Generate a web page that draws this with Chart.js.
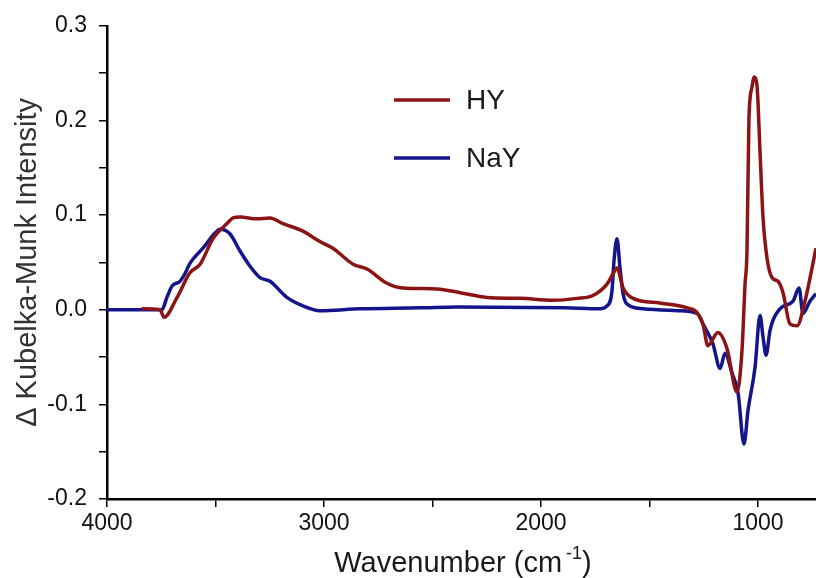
<!DOCTYPE html>
<html>
<head>
<meta charset="utf-8">
<script src="https://cdn.jsdelivr.net/npm/chart.js@4/dist/chart.umd.min.js"></script>
<style>
    html, body { margin: 0; padding: 0; background: #fff; }
    #wrap { width: 816px; height: 578px; position: relative; }
</style>
</head>
<body>
<div id="wrap"><canvas id="chart" width="816" height="578"></canvas></div>
<script>
// wavenumber (cm-1) and intensity
const hyWave = [3840, 3756, 3737, 3677, 3618, 3571, 3512, 3447, 3419, 3387, 3309, 3249, 3189, 3097, 3019, 2959,
    2866, 2802, 2710, 2636, 2479, 2373, 2249, 2097, 1945, 1834, 1761, 1696, 1668, 1650, 1622, 1576, 1452, 1327,
    1281, 1254, 1231, 1185, 1143, 1097, 1074, 1060, 1051, 1042, 1028, 1019, 1005, 991, 977, 959, 936, 908, 885,
    853, 820, 784, 733];
const hyValues = [0.001, 0.000, -0.008, 0.013, 0.039, 0.048, 0.075, 0.091, 0.097, 0.098, 0.096, 0.097, 0.091,
    0.083, 0.072, 0.065, 0.048, 0.043, 0.028, 0.023, 0.022, 0.018, 0.013, 0.012, 0.010, 0.012, 0.015, 0.027,
    0.038, 0.044, 0.023, 0.012, 0.007, 0.002, -0.003, -0.015, -0.038, -0.024, -0.041, -0.087, -0.043, 0.027,
    0.062, 0.202, 0.235, 0.246, 0.237, 0.167, 0.097, 0.055, 0.034, 0.030, 0.018, -0.015, -0.017, 0.009, 0.065];

const nayWave = [4000, 3747, 3724, 3700, 3664, 3641, 3618, 3558, 3502, 3479, 3433, 3387, 3341, 3295, 3249, 3171,
    3097, 3019, 2834, 2558, 2387, 1890, 1728, 1696, 1673, 1664, 1650, 1636, 1622, 1604, 1530, 1373, 1281, 1254,
    1208, 1175, 1152, 1120, 1092, 1065, 1046, 1014, 991, 977, 963, 945, 899, 839, 811, 793, 761, 733];
const nayValues = [0.000, 0.000, 0.013, 0.025, 0.030, 0.038, 0.049, 0.065, 0.081, 0.085, 0.080, 0.062, 0.046,
    0.034, 0.030, 0.013, 0.004, -0.001, 0.001, 0.002, 0.003, 0.002, 0.001, 0.004, 0.020, 0.051, 0.075, 0.044,
    0.017, 0.006, 0.001, -0.001, -0.004, -0.015, -0.036, -0.062, -0.046, -0.067, -0.088, -0.142, -0.106, -0.061,
    -0.006, -0.029, -0.048, -0.022, 0.001, 0.009, 0.023, -0.004, 0.009, 0.017];

// tick marks; only the labelled ones get text
const xTicks = [4000, 3500, 3000, 2500, 2000, 1500, 1000];
const xLabelled = [4000, 3000, 2000, 1000];
const yTicks = [-0.2, -0.15, -0.1, -0.05, 0, 0.05, 0.1, 0.15, 0.2, 0.25, 0.3];
const yLabelled = [-0.2, -0.1, 0, 0.1, 0.2, 0.3];

const xRange = [733, 4000];
const yRange = [-0.2, 0.3];

const RED  = '#8b1414';
const BLUE = '#14148b';
const FONT = '"Liberation Sans", Arial, sans-serif';

function points(xs, ys) {
    return xs.map((x, i) => ({ x: x, y: ys[i] }));
}

function isLabelled(list, v) {
    return list.some(t => Math.abs(t - v) < 1e-9);
}

// axis titles and the legend box are drawn by hand
const overlay = {
    id: 'overlay',
    afterDraw(chart) {
        const ctx = chart.ctx;
        const area = chart.chartArea;
        ctx.save();
        ctx.fillStyle = '#1a1a1a';

        // x title with superscript
        ctx.textBaseline = 'alphabetic';
        ctx.font = '29px ' + FONT;
        const main = 'Wavenumber (cm';
        const sup = '-1';
        const tail = ')';
        const wMain = ctx.measureText(main).width;
        ctx.font = '18px ' + FONT;
        const wSup = ctx.measureText(sup).width;
        ctx.font = '29px ' + FONT;
        const wTail = ctx.measureText(tail).width;
        let x = 463 - (wMain + wSup + wTail + 4) / 2;
        const base = 572;
        ctx.fillText(main, x, base);
        x += wMain + 4;
        ctx.font = '18px ' + FONT;
        ctx.fillText(sup, x, base - 13);
        x += wSup;
        ctx.font = '29px ' + FONT;
        ctx.fillText(tail, x, base);

        // y title
        ctx.save();
        ctx.translate(28, (area.top + area.bottom) / 2);
        ctx.rotate(-Math.PI / 2);
        ctx.textAlign = 'center';
        ctx.textBaseline = 'middle';
        ctx.font = '29px ' + FONT;
        ctx.fillStyle = '#333';
        ctx.fillText('\u0394 Kubelka-Munk Intensity', 0, 0);
        ctx.restore();

        // legend
        const rows = [100, 158];
        chart.data.datasets.forEach((ds, i) => {
            ctx.strokeStyle = ds.borderColor;
            ctx.lineWidth = 3.5;
            ctx.beginPath();
            ctx.moveTo(394, rows[i]);
            ctx.lineTo(450, rows[i]);
            ctx.stroke();
            ctx.fillStyle = '#1a1a1a';
            ctx.font = '28px ' + FONT;
            ctx.textBaseline = 'middle';
            ctx.fillText(ds.label, 466, rows[i] + 1);
        });
        ctx.restore();
    }
};

new Chart(document.getElementById('chart'), {
    type: 'line',
    data: {
        datasets: [
            { label: 'HY',  data: points(hyWave, hyValues),   borderColor: RED,  borderWidth: 3.5 },
            { label: 'NaY', data: points(nayWave, nayValues), borderColor: BLUE, borderWidth: 3.5 },
        ],
    },
    options: {
        responsive: false,
        animation: false,
        devicePixelRatio: 1,
        layout: { padding: { top: 22, right: 0, bottom: 0, left: 0 } },
        elements: {
            point: { radius: 0 },
            line: { cubicInterpolationMode: 'monotone', fill: false },
        },
        plugins: { legend: { display: false }, tooltip: { enabled: false } },
        scales: {
            x: {
                type: 'linear',
                reverse: true,
                min: xRange[0],
                max: xRange[1],
                border: { color: '#000', width: 2.5 },
                grid: { drawOnChartArea: false, drawTicks: true, tickLength: 8, color: '#000', lineWidth: 1.5 },
                afterBuildTicks: s => { s.ticks = xTicks.map(v => ({ value: v })); },
                ticks: {
                    autoSkip: false,
                    maxRotation: 0,
                    padding: 3,
                    color: '#111',
                    font: { family: FONT, size: 23 },
                    callback: v => (isLabelled(xLabelled, v) ? String(v) : ''),
                },
                afterFit: s => { s.height = 79; },
            },
            y: {
                min: yRange[0],
                max: yRange[1],
                border: { color: '#000', width: 2.5 },
                grid: { drawOnChartArea: false, drawTicks: true, tickLength: 8, color: '#000', lineWidth: 1.5 },
                afterBuildTicks: s => { s.ticks = yTicks.map(v => ({ value: v })); },
                ticks: {
                    autoSkip: false,
                    padding: 12,
                    color: '#111',
                    font: { family: FONT, size: 23 },
                    callback: v => (isLabelled(yLabelled, v) ? v.toFixed(1) : ''),
                },
                afterFit: s => { s.width = 107; },
            },
        },
    },
    plugins: [overlay],
});
</script>
</body>
</html>
